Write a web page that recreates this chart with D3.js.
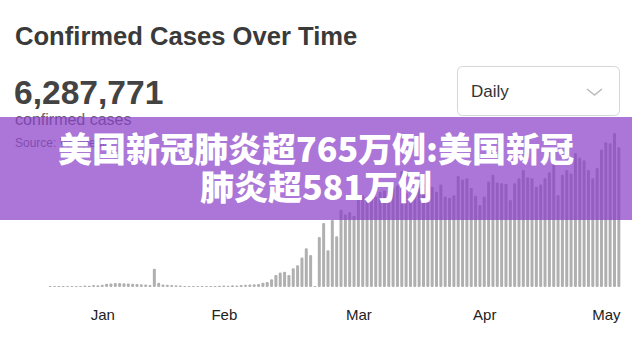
<!DOCTYPE html>
<html>
<head>
<meta charset="utf-8">
<script src="https://cdn.jsdelivr.net/npm/d3@7"></script>
<style>
  body { margin: 0; background: #fff; }
  svg { display: block; font-family: "Liberation Sans", Arial, sans-serif; }
</style>
</head>
<body>
<div id="chart"></div>
<script>
/* Confirmed cases over time - daily bars */

const width = 632,
    height = 338,
    margin = ({ top: 118, right: 11, bottom: 51, left: 48 });

// daily new confirmed cases, thousands, one per day from startDay
const startDay = "2020-01-20";
const dailyCases = [
  0.1, 0.1, 0.2, 0.2, 0.3, 0.3, 0.5, 0.6, 1.2, 1.0,
  1.6, 1.4, 1.8, 2.6, 3.0, 3.4, 3.3, 3.1, 2.8, 2.6,
  2.5, 2.3, 2.0, 1.6, 15.1, 3.5, 2.0, 1.8, 1.6, 1.5,
  1.2, 0.5, 0.6, 0.5, 0.6, 0.5, 0.6, 0.7, 0.6, 1.0,
  1.2, 1.1, 1.4, 1.3, 1.6, 1.9, 2.0, 2.2, 2.4, 3.6,
  4.2, 6.5, 10, 12, 12.7, 10, 15.5, 18, 24.5, 32,
  26.5, 0.8, 41.5, 53, 30.5, 55.5, 42, 64, 60, 62,
  59, 74, 76, 73, 78, 75, 79, 80, 77, 82,
  84, 96, 78, 72, 77, 82, 86, 90, 83, 79,
  85, 75, 74, 76, 92, 89, 90, 82, 75.5, 68,
  75, 87.4, 93, 86.6, 86, 85.5, 72, 86, 90, 97,
  91, 90, 83, 85, 90, 95, 102.7, 76, 93, 97,
  94, 111, 107, 105, 97, 90, 98.5, 114, 120, 119,
  127.5, 116
];

const tickDates = ["2020-02-01", "2020-02-29", "2020-03-31", "2020-04-29", "2020-05-27"];
const tickLabels = ["Jan", "Feb", "Mar", "Apr", "May"];

const title = "Confirmed Cases Over Time";
const totalCases = "6,287,771";
const totalLabel = "confirmed cases";
const sourceText = "Source: Wikipedia";
const periodOption = "Daily";
const bannerLines = ["美国新冠肺炎超765万例:美国新冠", "肺炎超581万例"];

const parseDay = d3.timeParse("%Y-%m-%d");
const day0 = parseDay(startDay);
const data = dailyCases.map((v, i) => ({ date: d3.timeDay.offset(day0, i), value: v }));

const svg = d3.select("#chart")
  .append("svg")
  .attr("width", width)
  .attr("height", height)
  .attr("viewBox", [0, 0, width, height]);

/* Scales */
const halfDay = 12 * 3600 * 1000;
let x = d3.scaleTime()
  .domain([new Date(+data[0].date - halfDay), new Date(+data[data.length - 1].date + halfDay)])
  .range([margin.left, width - margin.right]);

let y = d3.scaleLinear()
  .domain([0, 140])
  .range([height - margin.bottom, margin.top]);

/* Header */
svg.append("text")
  .attr("x", 15).attr("y", 45)
  .attr("font-size", 25.6).attr("font-weight", "bold")
  .attr("fill", "#3a3a3a")
  .text(title);

svg.append("text")
  .attr("x", 14).attr("y", 104)
  .attr("font-size", 33.6).attr("font-weight", "bold")
  .attr("fill", "#434343")
  .text(totalCases);

svg.append("text")
  .attr("x", 15).attr("y", 125)
  .attr("font-size", 16)
  .attr("fill", "#666")
  .text(totalLabel);

svg.append("text")
  .attr("x", 15).attr("y", 147)
  .attr("font-size", 12)
  .attr("fill", "#777")
  .text(sourceText);

/* Dropdown */
const dd = svg.append("g");
dd.append("rect")
  .attr("x", 457.5).attr("y", 66.5)
  .attr("width", 162).attr("height", 49)
  .attr("rx", 5)
  .attr("fill", "#fff")
  .attr("stroke", "#d6d6d6");
dd.append("text")
  .attr("x", 471).attr("y", 97)
  .attr("font-size", 17)
  .attr("fill", "#333")
  .text(periodOption);
dd.append("path")
  .attr("d", "M587,89 L594.5,95 L602,89")
  .attr("fill", "none")
  .attr("stroke", "#bbb")
  .attr("stroke-width", 1.6);

/* Bars */
svg.append("g")
  .attr("fill", "#b0b0b0")
  .selectAll("rect")
  .data(data)
  .join("rect")
  .attr("x", d => x(d.date) - 1.5)
  .attr("width", 3)
  .attr("y", d => Math.min(y(d.value), y(0) - 1))
  .attr("height", d => Math.max(1, y(0) - y(d.value)))
  .attr("rx", 1.2);

/* X axis labels */
svg.append("g")
  .attr("transform", `translate(0,${height - margin.bottom})`)
  .call(d3.axisBottom(x)
    .tickValues(tickDates.map(parseDay))
    .tickFormat((d, i) => tickLabels[i])
    .tickSize(0)
    .tickPadding(22))
  .call(g => g.select(".domain").remove())
  .call(g => g.selectAll("text")
    .attr("font-family", "Liberation Sans, Arial, sans-serif")
    .attr("font-size", 15)
    .attr("fill", "#222"));

/* Banner overlay */
svg.append("rect")
  .attr("x", 0).attr("y", 117)
  .attr("width", width).attr("height", 103)
  .attr("fill", "rgb(135,60,200)")
  .attr("fill-opacity", 0.7);

const banner = svg.append("g")
  .attr("font-family", "'Noto Sans CJK SC', sans-serif")
  .attr("font-weight", 900)
  .attr("font-size", 34)
  .attr("fill", "#fff")
  .attr("text-anchor", "middle");

banner.selectAll("text")
  .data(bannerLines)
  .join("text")
  .attr("x", 316)
  .attr("y", (d, i) => 162 + i * 38)
  .text(d => d);
</script>
</body>
</html>
